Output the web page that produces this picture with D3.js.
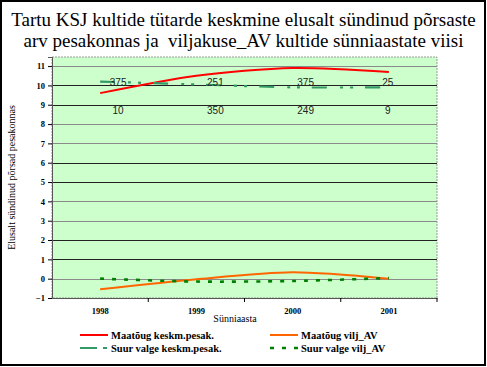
<!DOCTYPE html>
<html>
<head>
<meta charset="utf-8">
<script src="https://cdn.jsdelivr.net/npm/d3@7"></script>
<style>
  body { margin: 0; background: #fff; }
  svg { display: block; }
</style>
</head>
<body>
<div id="vis"></div>
<script>
const YEARS = ['1998', '1999', '2000', '2001']

const MAATOUG_KESKM = [9.6, 10.5, 10.9, 10.7]
const SUUR_VALGE_KESKM = [10.2, 10.05, 9.9, 9.9]
const MAATOUG_VILJ = [-0.55, -0.03, 0.33, 0.0]
const SUUR_VALGE_VILJ = [0.0, -0.15, -0.12, 0.03]

// n labels shown in the chart
const LABELS_TOP = ['375', '251', '375', '25']
const LABELS_BOTTOM = ['10', '350', '249', '9']

const Y_TICKS = [-1, 0, 1, 2, 3, 4, 5, 6, 7, 8, 9, 10, 11]

const TITLE_LINES = [
    'Tartu KSJ kultide tütarde keskmine elusalt sündinud põrsaste',
    'arv pesakonnas ja  viljakuse_AV kultide sünniaastate viisi'
]

const SERIES = [
    {name: 'Maatõug keskm.pesak.', values: MAATOUG_KESKM, color: '#ff0000', width: 2, dash: null},
    {name: 'Maatõug vilj_AV', values: MAATOUG_VILJ, color: '#ff6600', width: 2, dash: null},
    {name: 'Suur valge keskm.pesak.', values: SUUR_VALGE_KESKM, color: '#339966', width: 2.2, dash: '15 13 3 7 3 12'},
    {name: 'Suur valge vilj_AV', values: SUUR_VALGE_VILJ, color: '#008000', width: 2.6, dash: '4 8'}
]

const SERIF = '"Liberation Serif", "DejaVu Serif", "Times New Roman", serif'
const W = 487, H = 367
const plot = {left: 52, right: 437, top: 57, bottom: 298}

let svg = d3.select('#vis')
    .append('svg')
    .attr('width', W)
    .attr('height', H)

// outer frame
svg.append('rect')
    .attr('x', 1).attr('y', 1)
    .attr('width', W - 3).attr('height', H - 3)
    .attr('fill', '#fff')
    .attr('stroke', '#000')
    .attr('stroke-width', 2)

// title
svg.append('g')
    .selectAll('text')
    .data(TITLE_LINES)
    .enter().append('text')
    .attr('x', W / 2)
    .attr('y', (d, i) => 26 + i * 21)
    .attr('text-anchor', 'middle')
    .style('font-family', SERIF)
    .style('font-size', '19px')
    .style('white-space', 'pre')
    .attr('fill', '#000')
    .text(d => d)

let x = d3.scaleBand()
    .domain(YEARS)
    .range([plot.left, plot.right])

let y = d3.scaleLinear()
    .domain([-1, 11.47])
    .range([plot.bottom, plot.top])

// plot background
svg.append('rect')
    .attr('x', plot.left)
    .attr('y', plot.top)
    .attr('width', plot.right - plot.left)
    .attr('height', plot.bottom - plot.top)
    .attr('fill', '#ccffcc')
    .attr('stroke', '#999')
    .attr('stroke-width', 1)
    .attr('stroke-dasharray', '2 1')

// gridlines (they come out black/grey alternating in the original)
svg.append('g')
    .selectAll('line')
    .data(Y_TICKS.filter(d => d > -1))
    .enter().append('line')
    .attr('x1', plot.left)
    .attr('x2', plot.right)
    .attr('y1', d => Math.round(y(d)) + 0.5)
    .attr('y2', d => Math.round(y(d)) + 0.5)
    .attr('stroke', (d, i) => (i % 4 === 0 || i % 4 === 3) ? '#8a8a8a' : '#222')
    .attr('stroke-width', 1)

// y axis
let yAxis = svg.append('g')
    .attr('transform', `translate(${plot.left},0)`)
    .call(d3.axisLeft(y).tickValues(Y_TICKS).tickSize(4).tickPadding(3).tickFormat(d3.format('d')))
yAxis.select('.domain').attr('stroke', '#555')
yAxis.selectAll('.tick line').attr('stroke', '#000')
yAxis.selectAll('text')
    .style('font-family', SERIF)
    .style('font-size', '8.5px')
    .style('font-weight', 'bold')
    .attr('fill', '#000')

// x axis
let xAxis = svg.append('g')
    .attr('transform', `translate(0,${plot.bottom})`)
    .call(d3.axisBottom(x).tickSize(0).tickPadding(10))
xAxis.select('.domain').attr('stroke', '#555')
xAxis.selectAll('text')
    .style('font-family', SERIF)
    .style('font-size', '8.5px')
    .style('font-weight', 'bold')
    .attr('fill', '#000')

// tick marks between categories
svg.append('g')
    .selectAll('line')
    .data(YEARS)
    .enter().append('line')
    .attr('x1', d => x(d) + x.bandwidth())
    .attr('x2', d => x(d) + x.bandwidth())
    .attr('y1', plot.bottom)
    .attr('y2', plot.bottom + 4)
    .attr('stroke', '#000')

// axis titles
svg.append('text')
    .attr('x', 235)
    .attr('y', 322)
    .attr('text-anchor', 'middle')
    .style('font-family', SERIF)
    .style('font-size', '10px')
    .text('Sünniaasta')

svg.append('text')
    .attr('transform', `translate(15,${(plot.top + plot.bottom) / 2}) rotate(-90)`)
    .attr('text-anchor', 'middle')
    .style('font-family', SERIF)
    .style('font-size', '10px')
    .text('Elusalt sündinud põrsad pesakonnas')

// lines
let line = d3.line()
    .x((d, i) => x(YEARS[i]) + x.bandwidth() / 2)
    .y(d => y(d))
    .curve(d3.curveCardinal.tension(0.2))

svg.append('g')
    .selectAll('path')
    .data(SERIES)
    .enter().append('path')
    .attr('d', d => line(d.values))
    .attr('fill', 'none')
    .attr('stroke', d => d.color)
    .attr('stroke-width', d => d.width)
    .attr('stroke-dasharray', d => d.dash)

// data labels
let labelNudge = [18, 19, 13, -1]
let labelRows = [
    {texts: LABELS_TOP, at: 9.95},
    {texts: LABELS_BOTTOM, at: 8.5}
]
for (let row of labelRows) {
    svg.append('g')
        .selectAll('text')
        .data(row.texts)
        .enter().append('text')
        .attr('x', (d, i) => x(YEARS[i]) + x.bandwidth() / 2 + labelNudge[i])
        .attr('y', y(row.at))
        .attr('text-anchor', 'middle')
        .style('font-family', '"Liberation Sans", Arial, sans-serif')
        .style('font-size', '10px')
        .attr('fill', '#222')
        .text(d => d)
}

// legend
let legend = svg.append('g')
let legendCols = [80, 270]
let legendRows = [335, 348]
SERIES.forEach((s, i) => {
    let lx = legendCols[i % 2]
    let ly = legendRows[Math.floor(i / 2)]
    legend.append('line')
        .attr('x1', lx).attr('x2', lx + 28)
        .attr('y1', ly).attr('y2', ly)
        .attr('stroke', s.color)
        .attr('stroke-width', s.width)
        .attr('stroke-dasharray', s.dash ? (i === 2 ? '17 6 4 10' : '4 8') : null)
    legend.append('text')
        .attr('x', lx + 31)
        .attr('y', ly + 3.5)
        .style('font-family', SERIF)
        .style('font-size', '10.5px')
        .style('font-weight', 'bold')
        .text(s.name)
})
</script>
</body>
</html>
